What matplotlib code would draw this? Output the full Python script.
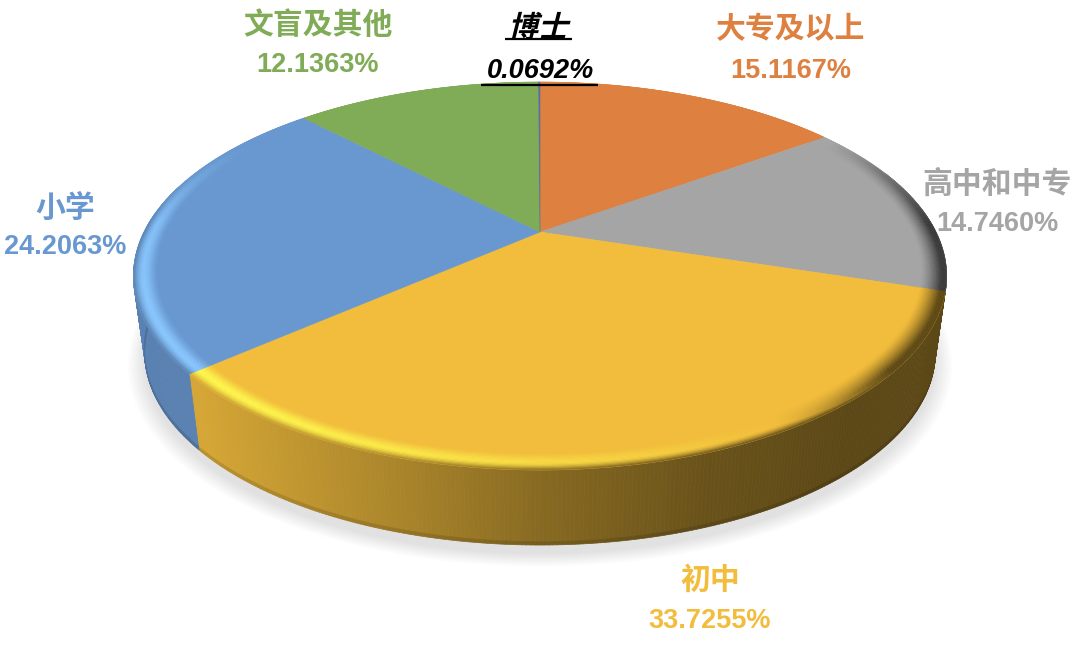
import numpy as np
import matplotlib
matplotlib.use("Agg")
import matplotlib.pyplot as plt
from matplotlib.collections import PolyCollection
from matplotlib.patheffects import AbstractPathEffect
from matplotlib.transforms import Affine2D

categories = ["大专及以上", "高中和中专", "初中", "小学", "文盲及其他", "博士"]
shares = [15.1167, 14.7460, 33.7255, 24.2063, 12.1363, 0.0692]
share_labels = ["15.1167%", "14.7460%", "33.7255%", "24.2063%", "12.1363%", "0.0692%"]
colors = ["#DD8040", "#A5A5A5", "#F2BD3C", "#6998D0", "#80AB57", "#5B6F9E"]
label_pos = [(791, 30, 71), (997, 184, 224), (710, 581, 621), (65, 208, 247), (318, 26, 65), (540, 29, 71)]
label_colors = ["#DD8040", "#A5A5A5", "#F2BD3C", "#6998D0", "#80AB57", "#000000"]

CX, CY, A, B, K = 540.0, 232.0, 396.0, 184.0, 0.2268
CY2, A2, B2 = 309.0, 385.0, 182.5
FAM = ["Liberation Sans", "Noto Sans CJK SC", "DejaVu Sans"]


class Slant(AbstractPathEffect):
    """Slants a text that has no italic face (CJK)."""

    def __init__(self, px, py, deg=14):
        super().__init__()
        self.px, self.py, self.deg = px, py, deg

    def draw_path(self, renderer, gc, tpath, affine, rgbFace=None):
        t = affine + Affine2D().translate(-self.px, -self.py).skew_deg(self.deg, 0).translate(self.px, self.py)
        renderer.draw_path(gc, tpath, t, rgbFace)


def proj(theta, r=1.0, cy=CY, a=A, b=B):
    """theta clockwise from 12 o'clock (radians) -> chart coordinates."""
    x, y = r * np.sin(theta), r * np.cos(theta)
    d = 1 + K * y
    return np.column_stack([CX + a * x / d, cy - b * y / d])


def rgb(c):
    return np.array(matplotlib.colors.to_rgb(c))


def wall_shade(x):
    return np.interp(x, [197, 400, 540, 700, 850, 945], [0.88, 0.70, 0.56, 0.44, 0.38, 0.38])


fig = plt.figure(figsize=(10.8, 6.46), dpi=100)
ax = fig.add_axes([0, 0, 1, 1])
ax.set_xlim(0, 1080)
ax.set_ylim(646, 0)
ax.axis("off")

edges = np.radians(np.concatenate([[0], np.cumsum(shares)]) * 3.6)

# soft shadow
full = np.linspace(0, 2 * np.pi, 361)
for s in np.linspace(1.04, 1.0, 10):
    ax.fill(*proj(full, s, CY2 + 9, A2, B2).T, color="k", alpha=0.011, lw=0, zorder=1)

# side wall (front part only)
polys, cols = [], []
lo, hi_t = np.radians(70), np.radians(285)
for i, c in enumerate(colors):
    a0, a1 = max(edges[i], lo), min(edges[i + 1], hi_t)
    if a1 <= a0:
        continue
    n = max(2, int((a1 - a0) / np.radians(0.5)))
    t = np.linspace(a0, a1, n)
    top = proj(t)
    bot = proj(t, 1.0, CY2, A2, B2)
    mid = top + (bot - top) * 0.955
    for j in range(n - 1):
        xm = (top[j, 0] + top[j + 1, 0]) / 2
        f = 0.85 if i >= 3 else wall_shade(xm)
        col = np.clip(rgb(c) * f, 0, 1)
        polys.append([top[j], top[j + 1], mid[j + 1], mid[j]])
        cols.append(col)
        polys.append([mid[j], mid[j + 1], bot[j + 1], bot[j]])
        cols.append(col * 0.87)
ax.add_collection(PolyCollection(polys, facecolors=cols, edgecolors=cols, linewidths=0.5, zorder=2))

# flat top
for i, c in enumerate(colors):
    t = np.linspace(edges[i], edges[i + 1], 200)
    pts = np.vstack([[CX, CY], proj(t)])
    ax.fill(pts[:, 0], pts[:, 1], color=c, lw=0.4, zorder=3)

# rounded bevel round the rim
rs = np.linspace(0.94, 1.0, 16)
polys, cols = [], []
light_dir = np.radians(240)
for i, c in enumerate(colors):
    base = rgb(c)
    n = max(2, int((edges[i + 1] - edges[i]) / np.radians(0.5)))
    t = np.linspace(edges[i], edges[i + 1], n)
    for j in range(n - 1):
        tm = (t[j] + t[j + 1]) / 2
        amp = np.clip((0.55 - np.cos(tm)) / 0.5, 0, 1)
        lit = np.cos(tm - light_dir)
        xm = proj(np.array([tm]))[0, 0]
        f = 0.85 if i >= 3 else wall_shade(xm)
        wall = base * f
        if i == 1:
            wall = base * 0.35
        hi = np.clip(base * 1.32, 0, 1)
        dark = min(1.0, max(0.0, -lit) * 3.0)
        for k in range(len(rs) - 1):
            s = ((rs[k] + rs[k + 1]) / 2 - rs[0]) / (rs[-1] - rs[0])
            p = np.clip(s / 0.62, 0, 1)
            p = p * p * (3 - 2 * p)
            col = base + (hi - base) * p * max(0.0, lit) * amp
            edge = np.clip((s - 0.62) / 0.38, 0, 1) ** 1.6
            w = max(edge * amp, np.clip(s / 0.8, 0, 1) ** 1.4 * dark * amp)
            col = col + (wall - col) * w
            a_ = proj(np.array([t[j], t[j + 1]]), rs[k])
            b_ = proj(np.array([t[j], t[j + 1]]), rs[k + 1])
            polys.append([a_[0], a_[1], b_[1], b_[0]])
            cols.append(np.clip(col, 0, 1))
ax.add_collection(PolyCollection(polys, facecolors=cols, edgecolors=cols, linewidths=0.3, zorder=4))

# labels
for i, name in enumerate(categories):
    x, y1, y2 = label_pos[i]
    st = "italic" if i == 5 else "normal"
    t1 = ax.text(x, y1, name, color=label_colors[i], fontsize=21.5, family=FAM, weight="bold",
                 ha="center", va="center", zorder=6)
    if i == 5:
        t1.set_path_effects([Slant(x, fig.bbox.height - y1)])
    ax.text(x, y2, share_labels[i], color=label_colors[i], fontsize=19.5, family=FAM, weight="bold",
            ha="center", va="center", style=st, zorder=6)
ax.plot([505, 572], [39, 39], color="k", lw=1.6, zorder=6, solid_capstyle="butt")
ax.plot([481, 598], [85, 85], color="k", lw=1.6, zorder=6, solid_capstyle="butt")

fig.savefig("out.png", dpi=100, facecolor="white")
